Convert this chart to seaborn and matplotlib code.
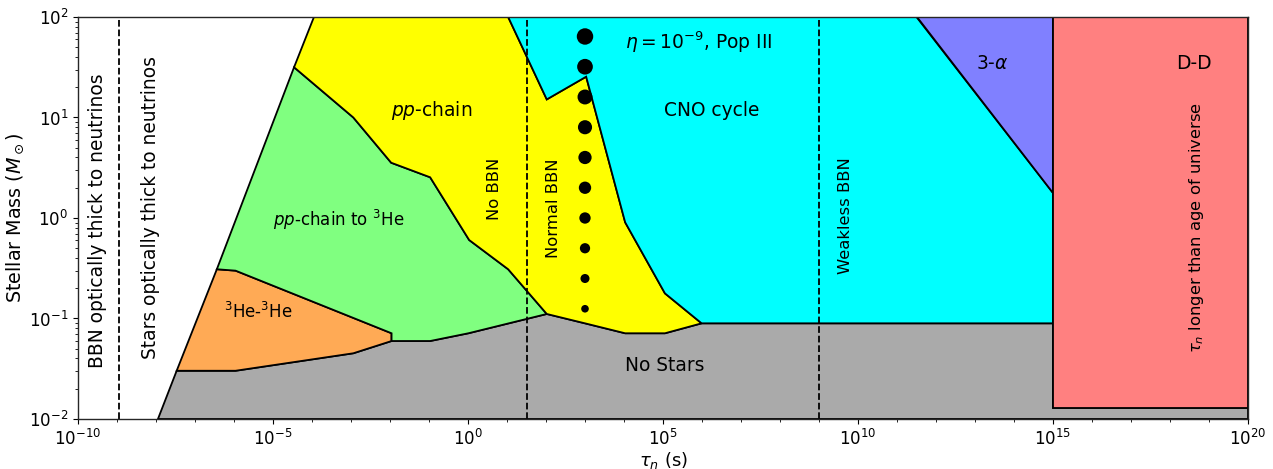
import numpy as np
import pandas as pd
import matplotlib
matplotlib.use("Agg")
import matplotlib.pyplot as plt
import matplotlib.ticker as mticker
import seaborn as sns

sns.set_style("ticks")
plt.rcParams['font.family'] = ['DejaVu Sans']
plt.rcParams['text.color'] = 'black'
plt.rcParams['axes.labelcolor'] = 'black'
plt.rcParams['xtick.color'] = 'black'
plt.rcParams['ytick.color'] = 'black'

# ---- region boundaries (tau_n in s, mass in M_sun) ----
nostars_x = [10**-7.95, 10**-7.47, 10**-5.96, 10**-2.94, 10**-1.96, 10**-0.97, 10**0.01,
             10**2.02, 10**3.0, 10**4.03, 10**5.05, 10**5.99, 1e15, 1e15, 1e20, 1e20]
nostars_y = [1e-2, 10**-1.52, 10**-1.52, 10**-1.346, 10**-1.224, 10**-1.224, 10**-1.147,
             10**-0.955, 10**-1.048, 10**-1.147, 10**-1.147, 10**-1.048, 10**-1.048,
             10**-1.888, 10**-1.888, 1e-2]

he3he3_x = [10**-7.47, 10**-6.44, 10**-5.96, 10**-1.96, 10**-1.96, 10**-2.94, 10**-5.96]
he3he3_y = [10**-1.52, 10**-0.51, 10**-0.524, 10**-1.147, 10**-1.224, 10**-1.346, 10**-1.52]

ppHe3_x = [10**-6.44, 10**-4.46, 10**-2.94, 10**-1.97, 10**-0.97, 10**0.03, 10**1.03,
           10**2.02, 10**0.01, 10**-0.97, 10**-1.96, 10**-1.96, 10**-5.96]
ppHe3_y = [10**-0.51, 10**1.5, 10**1.0, 10**0.55, 10**0.405, 10**-0.219, 10**-0.51,
           10**-0.955, 10**-1.147, 10**-1.224, 10**-1.224, 10**-1.147, 10**-0.524]

pp_x = [10**-4.46, 10**-3.95, 10**1.03, 10**2.02, 10**3.03, 10**4.03, 10**5.05, 10**5.99,
        10**5.05, 10**4.03, 10**3.0, 10**2.02, 10**1.03, 10**0.03, 10**-0.97, 10**-1.97,
        10**-2.94]
pp_y = [10**1.5, 1e2, 1e2, 10**1.18, 10**1.406, 10**-0.043, 10**-0.75, 10**-1.048,
        10**-1.147, 10**-1.147, 10**-1.048, 10**-0.955, 10**-0.51, 10**-0.219, 10**0.405,
        10**0.55, 10**1.0]

cno_x = [10**1.03, 10**11.5, 1e15, 1e15, 10**5.99, 10**5.05, 10**4.03, 10**3.03, 10**2.02]
cno_y = [1e2, 1e2, 10**0.25, 10**-1.048, 10**-1.048, 10**-0.75, 10**-0.043, 10**1.406, 10**1.18]

alpha_x = [10**11.5, 1e15, 1e15]
alpha_y = [1e2, 1e2, 10**0.25]

dd_x = [1e15, 1e20, 1e20, 1e15]
dd_y = [10**-1.888, 10**-1.888, 1e2, 1e2]

# vertical dashed boundaries
bbn_thick_tau = 10**-8.95
normal_bbn_tau = 10**1.5
weakless_tau = 1e9

# Pop III stars
pop3_tau = [1e3] * 10
pop3_mass = [64, 32, 16, 8, 4, 2, 1, 0.5, 0.25, 0.125]

regions = [
    (nostars_x, nostars_y, '#aaaaaa'),
    (he3he3_x, he3he3_y, '#ffaa55'),
    (ppHe3_x, ppHe3_y, '#80ff80'),
    (pp_x, pp_y, '#ffff00'),
    (cno_x, cno_y, '#00ffff'),
    (alpha_x, alpha_y, '#8080ff'),
    (dd_x, dd_y, '#ff8080'),
]

fig, ax = plt.subplots(figsize=(12.73, 4.69), dpi=100)
fig.subplots_adjust(left=78/1273, right=1248/1273, top=1-17/469, bottom=1-419/469)

ax.set_xscale('log')
ax.set_yscale('log')
ax.set_xlim(1e-10, 1e20)
ax.set_ylim(1e-2, 1e2)

for xs, ys, c in regions:
    ax.fill(xs, ys, facecolor=c, edgecolor='black', linewidth=1.3, zorder=1)

for t in [bbn_thick_tau, normal_bbn_tau, weakless_tau]:
    ax.axvline(t, color='black', linestyle='--', linewidth=1.3, zorder=2)

df = pd.DataFrame({'tau': pop3_tau, 'mass': pop3_mass})
df['size'] = np.log2(df['mass'])
sns.scatterplot(data=df, x='tau', y='mass', size='size', sizes=(30, 140),
                color='black', edgecolor='none', legend=False, ax=ax, zorder=3)

fs = 13.4
sfs = 11.8
ax.text(10**-9.49, 10**-0.03, 'BBN optically thick to neutrinos', rotation=90,
        ha='center', va='center', fontsize=fs)
ax.text(10**-8.15, 10**0.1, 'Stars optically thick to neutrinos', rotation=90,
        ha='center', va='center', fontsize=fs)
ax.text(10**-0.93, 10**1.07, r'$pp$-chain', ha='center', va='center', fontsize=fs)
ax.text(10**-3.31, 10**-0.02, r'$pp$-chain to $^3$He', ha='center', va='center', fontsize=12)
ax.text(10**-5.38, 10**-0.935, r'$^3$He-$^3$He', ha='center', va='center', fontsize=12)
ax.text(10**0.67, 10**0.29, 'No BBN', rotation=90, ha='center', va='center', fontsize=sfs)
ax.text(10**2.18, 10**0.1, 'Normal BBN', rotation=90, ha='center', va='center', fontsize=sfs)
ax.text(10**9.67, 10**0.02, 'Weakless BBN', rotation=90, ha='center', va='center', fontsize=sfs)
ax.text(10**5.92, 10**1.75, r'$\eta = 10^{-9}$, Pop III', ha='center', va='center', fontsize=fs)
ax.text(10**6.26, 10**1.065, 'CNO cycle', ha='center', va='center', fontsize=fs)
ax.text(10**5.05, 10**-1.47, 'No Stars', ha='center', va='center', fontsize=fs)
ax.text(10**13.44, 10**1.54, r'3-$\alpha$', ha='center', va='center', fontsize=fs)
ax.text(10**18.62, 10**1.54, 'D-D', ha='center', va='center', fontsize=fs)
ax.text(10**18.69, 10**-0.1, r'$\tau_n$ longer than age of universe', rotation=90,
        ha='center', va='center', fontsize=sfs)

ax.xaxis.set_major_locator(mticker.FixedLocator([10.0**k for k in range(-10, 21, 5)]))
ax.xaxis.set_minor_locator(mticker.FixedLocator([10.0**k for k in range(-10, 21)]))
ax.xaxis.set_minor_formatter(mticker.NullFormatter())
ax.yaxis.set_minor_locator(mticker.LogLocator(base=10, subs=np.arange(2, 10)))
ax.yaxis.set_minor_formatter(mticker.NullFormatter())
ax.tick_params(which='both', direction='out', labelsize=12)

ax.set_xlabel(r'$\tau_n$ (s)', fontsize=13, labelpad=1)
ax.set_ylabel(r'Stellar Mass ($M_\odot$)', fontsize=13.8, labelpad=2)
for s in ax.spines.values():
    s.set_linewidth(1.0)
    s.set_zorder(5)

fig.savefig('out.png', dpi=100)
